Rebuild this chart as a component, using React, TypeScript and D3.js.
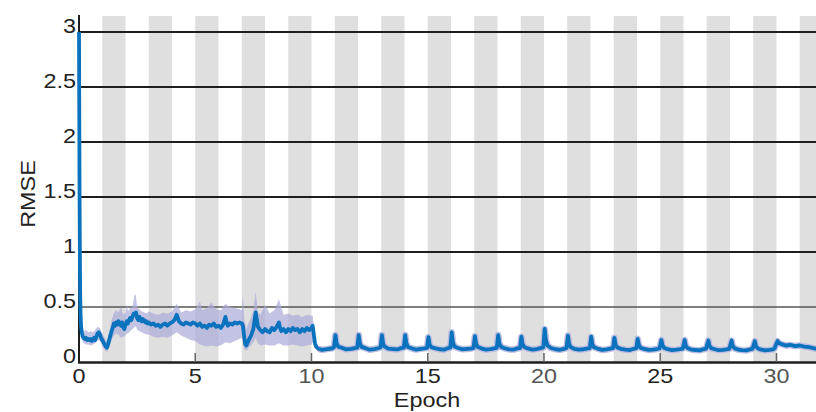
import React from "react";
import * as d3 from "d3";

// ---- data ----
const yTicks = [0, 0.5, 1, 1.5, 2, 2.5, 3];
const yTickLabels = ["0", "0.5", "1", "1.5", "2", "2.5", "3"];
const xTicks = [0, 5, 10, 15, 20, 25, 30];
const xTickLabels = ["0", "5", "10", "15", "20", "25", "30"];
const xTickLabelGray = [false, false, true, false, true, false, true];
const stripeStarts = [1, 3, 5, 7, 9, 11, 13, 15, 17, 19, 21, 23, 25, 27, 29, 31];

// mean RMSE, first phase (epoch, rmse)
const rmseEarly: [number, number][] = [
  [0.0, 3.0], [0.01, 2.4], [0.02, 1.72], [0.03, 1.3], [0.04, 0.9], [0.05, 0.62], [0.07, 0.42],
  [0.09, 0.32], [0.12, 0.27], [0.16, 0.23], [0.2, 0.22], [0.25, 0.21], [0.3, 0.22], [0.35, 0.2],
  [0.4, 0.21], [0.45, 0.2], [0.5, 0.21], [0.55, 0.19], [0.6, 0.2], [0.65, 0.22], [0.7, 0.2],
  [0.75, 0.23], [0.8, 0.26], [0.85, 0.27], [0.9, 0.25], [0.95, 0.22], [1.0, 0.2], [1.05, 0.18],
  [1.1, 0.16], [1.15, 0.14], [1.2, 0.13], [1.25, 0.16], [1.3, 0.2], [1.35, 0.24], [1.4, 0.28],
  [1.45, 0.31], [1.5, 0.35], [1.55, 0.33], [1.6, 0.36], [1.65, 0.34], [1.7, 0.37], [1.75, 0.35],
  [1.8, 0.33], [1.85, 0.36], [1.9, 0.32], [1.95, 0.3], [2.0, 0.34], [2.05, 0.37], [2.1, 0.35],
  [2.15, 0.38], [2.2, 0.4], [2.25, 0.38], [2.3, 0.41], [2.35, 0.44], [2.4, 0.43], [2.45, 0.45],
  [2.5, 0.4], [2.55, 0.38], [2.6, 0.41], [2.65, 0.39], [2.7, 0.37], [2.75, 0.39], [2.8, 0.38],
  [2.85, 0.36], [2.9, 0.37], [2.95, 0.35], [3.0, 0.36], [3.1, 0.34], [3.2, 0.35], [3.3, 0.33],
  [3.4, 0.34], [3.5, 0.32], [3.6, 0.34], [3.7, 0.35], [3.8, 0.33], [3.9, 0.35], [4.0, 0.36],
  [4.1, 0.38], [4.2, 0.43], [4.25, 0.4], [4.3, 0.37], [4.4, 0.35], [4.5, 0.34], [4.6, 0.36],
  [4.7, 0.35], [4.8, 0.34], [4.9, 0.36], [5.0, 0.35], [5.1, 0.33], [5.2, 0.35], [5.3, 0.32],
  [5.4, 0.33], [5.5, 0.31], [5.6, 0.34], [5.7, 0.33], [5.8, 0.35], [5.9, 0.32], [6.0, 0.33],
  [6.1, 0.31], [6.2, 0.34], [6.3, 0.41], [6.35, 0.36], [6.4, 0.33], [6.5, 0.35], [6.6, 0.34],
  [6.7, 0.36], [6.8, 0.35], [6.9, 0.36], [7.0, 0.35], [7.05, 0.33], [7.1, 0.24], [7.15, 0.16],
  [7.2, 0.15], [7.3, 0.2], [7.4, 0.24], [7.5, 0.3], [7.55, 0.38], [7.6, 0.45], [7.65, 0.38],
  [7.7, 0.32], [7.8, 0.29], [7.9, 0.27], [8.0, 0.3], [8.1, 0.28], [8.2, 0.27], [8.3, 0.31],
  [8.4, 0.29], [8.5, 0.32], [8.6, 0.36], [8.65, 0.31], [8.7, 0.28], [8.8, 0.3], [8.9, 0.27],
  [9.0, 0.3], [9.1, 0.28], [9.2, 0.31], [9.3, 0.29], [9.4, 0.3], [9.5, 0.27], [9.6, 0.3],
  [9.7, 0.28], [9.8, 0.31], [9.9, 0.29], [10.0, 0.31], [10.05, 0.33], [10.1, 0.25], [10.15, 0.17],
  [10.2, 0.14],
];

// mean RMSE, second phase (epoch, rmse)
const rmseLate: [number, number][] = [
  [10.3, 0.12], [10.45, 0.11], [10.6, 0.115], [10.75, 0.12], [10.9, 0.125],
  [10.97, 0.135], [11.03, 0.245], [11.08, 0.17], [11.15, 0.14], [11.3, 0.13], [11.5, 0.115], [11.7, 0.12], [11.85, 0.125],
  [11.97, 0.13], [12.03, 0.245], [12.08, 0.17], [12.15, 0.138], [12.3, 0.128], [12.5, 0.112], [12.7, 0.118], [12.85, 0.125],
  [12.97, 0.132], [13.03, 0.245], [13.08, 0.165], [13.15, 0.14], [13.3, 0.122], [13.5, 0.118], [13.7, 0.114], [13.85, 0.126],
  [13.97, 0.13], [14.03, 0.245], [14.08, 0.17], [14.15, 0.136], [14.3, 0.125], [14.5, 0.113], [14.7, 0.12], [14.85, 0.124],
  [14.97, 0.128], [15.03, 0.225], [15.08, 0.16], [15.15, 0.135], [15.3, 0.126], [15.5, 0.116], [15.7, 0.112], [15.85, 0.125],
  [15.97, 0.13], [16.03, 0.27], [16.08, 0.18], [16.15, 0.14], [16.3, 0.127], [16.5, 0.115], [16.7, 0.119], [16.85, 0.122],
  [16.97, 0.128], [17.03, 0.235], [17.08, 0.165], [17.15, 0.137], [17.3, 0.124], [17.5, 0.112], [17.7, 0.117], [17.85, 0.123],
  [17.97, 0.129], [18.03, 0.245], [18.08, 0.168], [18.15, 0.139], [18.3, 0.125], [18.5, 0.114], [18.7, 0.113], [18.85, 0.124],
  [18.97, 0.127], [19.03, 0.23], [19.08, 0.162], [19.15, 0.136], [19.3, 0.123], [19.5, 0.113], [19.7, 0.118], [19.85, 0.126],
  [19.97, 0.132], [20.03, 0.3], [20.08, 0.2], [20.15, 0.15], [20.3, 0.127], [20.5, 0.116], [20.7, 0.111], [20.85, 0.12],
  [20.97, 0.126], [21.03, 0.24], [21.08, 0.165], [21.15, 0.135], [21.3, 0.12], [21.5, 0.112], [21.7, 0.116], [21.85, 0.122],
  [21.97, 0.127], [22.03, 0.23], [22.08, 0.16], [22.15, 0.134], [22.3, 0.122], [22.5, 0.11], [22.7, 0.114], [22.85, 0.121],
  [22.97, 0.126], [23.03, 0.22], [23.08, 0.158], [23.15, 0.133], [23.3, 0.12], [23.5, 0.112], [23.7, 0.109], [23.85, 0.12],
  [23.97, 0.125], [24.03, 0.21], [24.08, 0.155], [24.15, 0.13], [24.3, 0.119], [24.5, 0.11], [24.7, 0.113], [24.85, 0.118],
  [24.97, 0.124], [25.05, 0.2], [25.1, 0.15], [25.17, 0.128], [25.3, 0.118], [25.5, 0.108], [25.7, 0.112], [25.85, 0.117],
  [25.97, 0.122], [26.05, 0.2], [26.1, 0.148], [26.17, 0.127], [26.3, 0.115], [26.5, 0.109], [26.7, 0.106], [26.85, 0.116],
  [26.97, 0.121], [27.07, 0.195], [27.12, 0.147], [27.2, 0.125], [27.35, 0.116], [27.5, 0.107], [27.7, 0.111], [27.85, 0.115],
  [27.97, 0.12], [28.07, 0.195], [28.12, 0.145], [28.2, 0.124], [28.35, 0.113], [28.5, 0.108], [28.7, 0.105], [28.85, 0.114],
  [28.97, 0.12], [29.07, 0.19], [29.12, 0.143], [29.2, 0.123], [29.35, 0.112], [29.5, 0.106], [29.7, 0.11], [29.85, 0.115],
  [29.92, 0.125], [30.0, 0.17], [30.05, 0.19], [30.12, 0.17], [30.25, 0.16], [30.4, 0.15], [30.6, 0.155], [30.8, 0.145],
  [31.0, 0.15], [31.2, 0.14], [31.4, 0.135], [31.6, 0.125], [31.75, 0.12], [32.0, 0.115],
];

// spread band, first phase (epoch, low, high)
const spreadEarly: [number, number, number][] = [
  [0.05, 0.55, 0.7], [0.08, 0.28, 0.4], [0.12, 0.2, 0.32], [0.2, 0.17, 0.28], [0.3, 0.16, 0.29],
  [0.4, 0.16, 0.27], [0.5, 0.15, 0.28], [0.6, 0.16, 0.27], [0.7, 0.17, 0.29], [0.8, 0.2, 0.32],
  [0.9, 0.19, 0.31], [1.0, 0.14, 0.26], [1.1, 0.11, 0.22], [1.2, 0.09, 0.19], [1.3, 0.13, 0.27],
  [1.4, 0.2, 0.38], [1.5, 0.24, 0.44], [1.6, 0.26, 0.47], [1.7, 0.25, 0.45], [1.8, 0.22, 0.5],
  [1.9, 0.23, 0.43], [2.0, 0.24, 0.45], [2.06, 0.26, 0.53], [2.1, 0.26, 0.46], [2.2, 0.28, 0.49],
  [2.3, 0.3, 0.5], [2.4, 0.32, 0.62], [2.45, 0.33, 0.6], [2.5, 0.29, 0.5], [2.6, 0.28, 0.48],
  [2.7, 0.27, 0.46], [2.8, 0.26, 0.45], [2.9, 0.25, 0.44], [3.0, 0.25, 0.46], [3.2, 0.23, 0.44],
  [3.4, 0.22, 0.43], [3.6, 0.23, 0.45], [3.8, 0.22, 0.44], [4.0, 0.24, 0.46], [4.2, 0.27, 0.53],
  [4.4, 0.24, 0.45], [4.6, 0.22, 0.47], [4.8, 0.2, 0.46], [5.0, 0.19, 0.48], [5.2, 0.16, 0.55],
  [5.3, 0.15, 0.47], [5.5, 0.14, 0.49], [5.7, 0.15, 0.54], [5.9, 0.14, 0.48], [6.1, 0.15, 0.47],
  [6.3, 0.18, 0.53], [6.5, 0.17, 0.5], [6.7, 0.19, 0.49], [6.9, 0.21, 0.48], [7.0, 0.22, 0.47],
  [7.05, 0.18, 0.6], [7.1, 0.12, 0.4], [7.2, 0.1, 0.3], [7.3, 0.13, 0.36], [7.4, 0.15, 0.4],
  [7.5, 0.18, 0.47], [7.6, 0.22, 0.64], [7.7, 0.17, 0.45], [7.8, 0.15, 0.43], [8.0, 0.16, 0.52],
  [8.2, 0.15, 0.44], [8.4, 0.15, 0.47], [8.6, 0.17, 0.57], [8.8, 0.15, 0.43], [9.0, 0.15, 0.44],
  [9.2, 0.16, 0.42], [9.4, 0.15, 0.43], [9.6, 0.14, 0.41], [9.8, 0.15, 0.43], [10.0, 0.16, 0.42],
  [10.05, 0.18, 0.42], [10.1, 0.15, 0.33], [10.2, 0.11, 0.19], [10.3, 0.1, 0.14],
];

const W = 816;
const H = 412;
const FONT = "'Liberation Sans', Arial, Helvetica, sans-serif";
const SX = 1.17; // glyphs in the reference are wider than Arial

export default function App() {
  const x = d3.scaleLinear().domain([0, 31.7]).range([79, 816]);
  const y = d3.scaleLinear().domain([0, 3]).range([362, 32]);
  const yAxisTop = y(3.145);

  const line = d3
    .line<[number, number]>()
    .x((d) => x(d[0]))
    .y((d) => y(d[1]));
  const area = d3
    .area<[number, number, number]>()
    .x((d) => x(d[0]))
    .y0((d) => y(d[1]))
    .y1((d) => y(d[2]));

  const allRmse = [...rmseEarly, ...rmseLate];

  const label = (
    key: string,
    tx: number,
    ty: number,
    txt: string,
    anchor: string,
    fill: string,
    rotate = 0
  ) => (
    <text
      key={key}
      transform={`translate(${tx},${ty}) rotate(${rotate}) scale(${SX},1)`}
      textAnchor={anchor}
      fontSize={20}
      fill={fill}
    >
      {txt}
    </text>
  );

  return (
    <svg
      width={W}
      height={H}
      style={{ position: "absolute", left: 0, top: 0, background: "#fff" }}
      fontFamily={FONT}
    >
      {/* epoch stripes */}
      {stripeStarts.map((s) => (
        <rect
          key={s}
          x={x(s)}
          y={yAxisTop}
          width={x(s + 1) - x(s)}
          height={y(0) - yAxisTop}
          fill="#e0dfdf"
        />
      ))}
      {/* horizontal grid */}
      {yTicks
        .filter((t) => t > 0)
        .map((t) => (
          <line
            key={t}
            x1={x(0)}
            x2={W}
            y1={y(t)}
            y2={y(t)}
            stroke={t === 0.5 ? "#555" : "#1e1e1e"}
            strokeWidth={t === 0.5 ? 1.5 : 2.2}
          />
        ))}
      {/* spread band */}
      <path d={area(spreadEarly) || ""} fill="#a9a9d8" fillOpacity={0.7} />
      {/* halo */}
      <path
        d={line(rmseLate) || ""}
        fill="none"
        stroke="#bdbde2"
        strokeWidth={6.5}
        strokeLinejoin="round"
      />
      {/* y axis */}
      <line x1={x(0)} x2={x(0)} y1={yAxisTop - 1} y2={y(0) + 1} stroke="#1e1e1e" strokeWidth={2} />
      {/* mean line */}
      <path
        d={line(allRmse) || ""}
        fill="none"
        stroke="#0b72bd"
        strokeWidth={3.8}
        strokeLinejoin="round"
      />
      {/* x axis */}
      <line x1={x(0) - 1} x2={W} y1={y(0) + 0.5} y2={y(0) + 0.5} stroke="#1e1e1e" strokeWidth={2.5} />
      {xTicks
        .filter((t) => t > 0)
        .map((t) => (
          <line
            key={t}
            x1={x(t)}
            x2={x(t)}
            y1={y(0)}
            y2={y(0) - 9}
            stroke="#666"
            strokeWidth={1.5}
          />
        ))}
      {/* tick labels */}
      {yTicks.map((t, i) => label(`y${t}`, 76, y(t) + 0.5, yTickLabels[i], "end", "#222"))}
      {xTicks.map((t, i) =>
        label(`x${t}`, x(t), 383, xTickLabels[i], "middle", xTickLabelGray[i] ? "#555" : "#222")
      )}
      {/* axis titles */}
      {label("xt", 427, 407, "Epoch", "middle", "#222")}
      {label("yt", 35, 194, "RMSE", "middle", "#222", -90)}
    </svg>
  );
}
